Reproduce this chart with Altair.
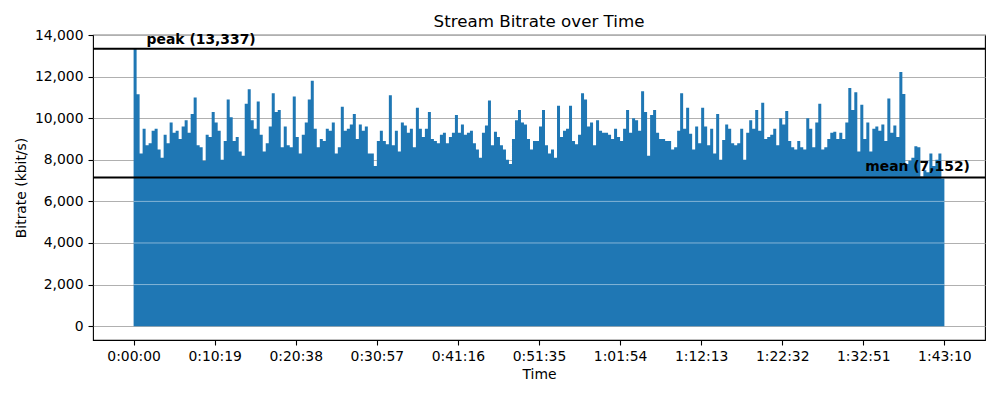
import altair as alt
import pandas as pd

# ---- data (kbit/s, evenly spaced samples over 0..6190 s) ----
DURATION_S = 6190
bitrate_part1 = [13337, 11150, 8300, 9500, 8700, 8800, 9400, 9500, 8500, 8100, 9200, 8800, 9800, 9300, 9400,
                 9000, 9600, 9900, 9300, 10200, 11000, 8700, 8600, 7950, 9200, 9100, 10300, 9800, 9400, 8000,
                 8900, 10900, 10050, 8900, 9100, 8400, 8200, 10700, 11400, 9900, 9500, 10800, 9200, 8400, 8800]
bitrate_part2 = [9600, 11200, 10300, 10400, 8600, 9600, 8700, 8600, 11050, 9100, 8300, 9200, 9800, 10900, 11800,
                 9500, 8600, 9000, 8900, 9500, 9400, 9800, 8300, 8600, 10550, 9400, 9500, 9700, 10200, 9000,
                 9700, 9400, 9600, 8300, 8300, 7700, 8900, 9400, 8900, 8750, 11100, 8700, 9400, 8400, 9800]
bitrate_part3 = [9650, 9300, 9500, 8600, 10500, 9500, 9100, 9500, 10300, 9000, 8900, 8800, 9200, 9300, 8800,
                 9100, 9300, 10150, 9300, 9700, 9200, 9300, 9400, 8800, 8500, 8100, 9300, 9650, 10850, 8700,
                 9350, 9100, 8700, 8500, 8000, 7800, 9000, 9900, 10400, 9800, 9700, 9000, 8500, 8900, 8900]
bitrate_part4 = [9600, 10400, 8700, 8300, 8500, 8100, 10600, 9100, 9400, 9500, 10600, 8900, 8750, 9200, 11200,
                 10900, 9600, 9800, 8700, 9900, 9400, 9300, 9300, 9200, 9000, 9500, 9100, 8900, 9500, 10400,
                 9300, 10000, 9900, 9400, 11300, 10300, 8200, 10150, 10400, 9300, 9000, 9000, 8900, 8900, 8500]
bitrate_part5 = [8600, 9400, 11200, 9500, 10500, 9250, 8500, 9600, 8800, 10500, 9600, 8700, 9500, 8300, 10200,
                 8000, 8950, 9700, 9500, 8800, 8700, 8800, 9500, 8000, 9300, 9900, 9500, 10400, 9400, 10750,
                 9000, 9100, 9200, 9500, 8700, 10000, 9700, 10350, 8900, 8600, 8500, 8900, 8600, 8500, 10000]
bitrate_part6 = [9500, 8600, 9800, 10700, 8500, 8600, 9000, 9300, 9350, 9000, 9300, 9000, 9800, 11450, 10400,
                 11250, 8400, 10650, 9000, 9800, 8400, 9500, 9600, 9400, 9700, 8900, 10950, 9300, 9650, 9100,
                 12230, 11170, 7800, 7950, 8100, 8650, 8600, 7200, 7500, 7400, 8300, 7700, 8000, 8300, 7100, 600]

PEAK_KBPS = 13337
MEAN_KBPS = 7152
GRID_SHOW_THROUGH = [2000, 4000, 6000]

x_tick_seconds = [0, 619, 1238, 1857, 2476, 3095, 3714, 4333, 4952, 5571, 6190]
x_tick_labels = ["0:00:00", "0:10:19", "0:20:38", "0:30:57", "0:41:16", "0:51:35",
                 "1:01:54", "1:12:13", "1:22:32", "1:32:51", "1:43:10"]
y_tick_values = [0, 2000, 4000, 6000, 8000, 10000, 12000, 14000]
y_tick_labels = ["0", "2,000", "4,000", "6,000", "8,000", "10,000", "12,000", "14,000"]

values = bitrate_part1 + bitrate_part2 + bitrate_part3 + bitrate_part4 + bitrate_part5 + bitrate_part6
n = len(values)
times = [i * DURATION_S / (n - 1) for i in range(n)]
df = pd.DataFrame({"t": times, "kbps": values})


def ternary_labels(vals, labs):
    expr = ""
    for v, lab in zip(vals, labs):
        expr += f"datum.value == {v} ? '{lab}' : "
    return expr + "''"


FONT = "DejaVu Sans"
BLUE = "#1f77b4"

x_scale = alt.Scale(domain=[-310, 6500], nice=False, zero=False)
y_scale = alt.Scale(domain=[-667, 14004], nice=False, zero=False)
x_axis = alt.Axis(values=x_tick_seconds, labelExpr=ternary_labels(x_tick_seconds, x_tick_labels),
                  title="Time", grid=False, labelPadding=4, titlePadding=5)
y_axis = alt.Axis(values=y_tick_values, labelExpr=ternary_labels(y_tick_values, y_tick_labels),
                  title="Bitrate (kbit/s)", grid=True, gridColor="#b0b0b0", gridWidth=1.1,
                  labelPadding=5, titlePadding=6)

area = alt.Chart(df).mark_area(interpolate="step-after", color=BLUE).encode(
    x=alt.X("t:Q", scale=x_scale, axis=x_axis),
    y=alt.Y("kbps:Q", scale=y_scale, axis=y_axis),
    y2=alt.datum(0),
)

grid_df = pd.DataFrame({"g": GRID_SHOW_THROUGH})
grid_through = alt.Chart(grid_df).mark_rule(color="white", opacity=0.45, strokeWidth=1).encode(
    y=alt.Y("g:Q", scale=y_scale, axis=y_axis),
    x=alt.datum(0),
    x2=alt.datum(DURATION_S),
)

stats_df = pd.DataFrame({"v": [PEAK_KBPS, MEAN_KBPS]})
stat_rules = alt.Chart(stats_df).mark_rule(color="black", strokeWidth=2).encode(
    y=alt.Y("v:Q", scale=y_scale, axis=y_axis)
)

peak_text = alt.Chart(pd.DataFrame({"v": [PEAK_KBPS]})).mark_text(
    text=f"peak ({PEAK_KBPS:,})", font=FONT, fontSize=13.9, fontWeight="bold",
    align="left", baseline="alphabetic", dy=-5, color="black"
).encode(x=alt.datum(99), y=alt.Y("v:Q", scale=y_scale, axis=y_axis))

mean_text = alt.Chart(pd.DataFrame({"v": [MEAN_KBPS]})).mark_text(
    text=f"mean ({MEAN_KBPS:,})", font=FONT, fontSize=13.9, fontWeight="bold",
    align="left", baseline="alphabetic", dy=-6, color="black"
).encode(x=alt.datum(5586), y=alt.Y("v:Q", scale=y_scale, axis=y_axis))

chart = alt.layer(area, grid_through, stat_rules, peak_text, mean_text).properties(
    width=892, height=305,
    title=alt.TitleParams("Stream Bitrate over Time", font=FONT, fontSize=16.7,
                          fontWeight="normal", anchor="middle", offset=5, dy=8,
                          color="black"),
    autosize=alt.AutoSizeParams(type="none"),
    padding={"left": 85, "top": 27, "right": 5, "bottom": 48},
).configure_view(
    stroke="black", strokeWidth=1.1
).configure_axis(
    domain=False, tickColor="black", tickSize=5, tickWidth=1.1,
    labelFont=FONT, labelFontSize=13.9, labelColor="black",
    titleFont=FONT, titleFontSize=13.9, titleFontWeight="normal", titleColor="black",
)

chart.save("out.html", embed_options={"renderer": "svg", "actions": False})
